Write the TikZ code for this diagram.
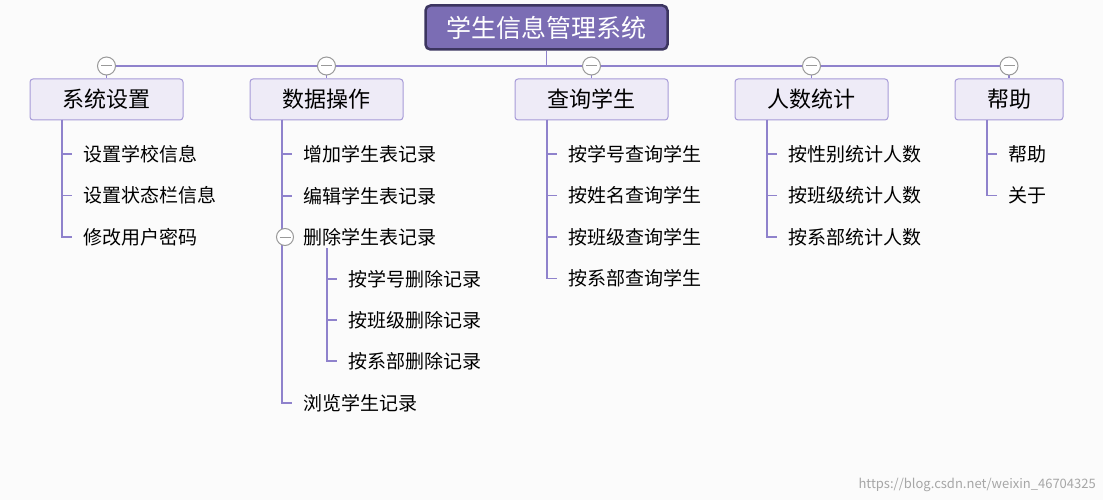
\documentclass[tikz,border=0pt]{standalone}
\usepackage{fontspec}
\setmainfont{Noto Sans CJK SC}
\usetikzlibrary{positioning}
\definecolor{rootfill}{HTML}{7B6DB4}
\definecolor{rootdraw}{HTML}{3C3560}
\definecolor{topfill}{HTML}{EEEBF7}
\definecolor{topdraw}{HTML}{A79BD8}
\definecolor{wire}{HTML}{8F82CC}
\begin{document}
\begin{tikzpicture}
[x=1pt,y=-1pt,%
  every node/.style={inner sep=0pt},%
  wire/.style={draw=wire,line width=1.2pt},%
  topbox/.style={draw=topdraw,fill=topfill,rounded corners=3pt,line width=1pt,minimum height=41pt,font=\fontsize{22}{22}\selectfont},%
  leaf/.style={anchor=west,font=\fontsize{19}{19}\selectfont},%
  fold/.style={circle,draw=gray!80,fill=white,line width=1pt,minimum size=18pt}]
\useasboundingbox[fill=white!97!gray] (0,0) rectangle (1103,500);
% root
\node[draw=rootdraw,fill=rootfill,rounded corners=5pt,line width=2.5pt,minimum width=242pt,minimum height=44pt,
  text=white,font=\fontsize{25}{25}\selectfont] (root) at (546.5,27.5) {学生信息管理系统};
\coordinate (busl) at (107,66);
\coordinate (busr) at (1010,66);
\draw[wire] (root.south) -- (546.5,66);
\draw[wire] (busl) -- (busr);
% first level
\foreach \n/\x/\w/\t in {sys/106.5/153/系统设置,data/326.5/153/数据操作,query/591.5/153/查询学生,count/811.5/153/人数统计,help/1009/108/帮助}{
  \node[topbox,minimum width=\w pt] (\n) at (\x,99.5) {\t};
  \draw[wire] (\x,66) -- (\n.north);
  \node[fold] (\n fold) at (\x,66) {};
  \draw[gray!80,line width=1pt] ([xshift=-5.5pt]\n fold.center) -- ([xshift=5.5pt]\n fold.center);
}
% leaves
\foreach \n/\x/\list in {sys/62/{设置学校信息,设置状态栏信息,修改用户密码},
  query/547/{按学号查询学生,按姓名查询学生,按班级查询学生,按系部查询学生},
  count/767/{按性别统计人数,按班级统计人数,按系部统计人数},
  help/987/{帮助,关于}}{
  \foreach \t [count=\i] in \list {
    \node[leaf] (\n\i) at (\x+21,112.5+41.5*\i) {\t};
    \draw[wire] (\x,120) |- ([xshift=-11pt]\n\i.west);
  }
}
% data branch
\foreach \t/\y [count=\i] in {增加学生表记录/154,编辑学生表记录/196,删除学生表记录/237,浏览学生记录/403}{
  \node[leaf] (data\i) at (303,\y) {\t};
  \draw[wire] (282,120) |- ([xshift=-11pt]data\i.west);
}
\foreach \t/\y [count=\i] in {按学号删除记录/279,按班级删除记录/320,按系部删除记录/361}{
  \node[leaf] (del\i) at (348,\y) {\t};
  \draw[wire] (327,248) |- ([xshift=-11pt]del\i.west);
}
\node[fold,minimum size=17pt] (datafold3) at (285,237) {};
\draw[gray!80,line width=1pt] ([xshift=-5.5pt]datafold3.center) -- ([xshift=5.5pt]datafold3.center);
\node[anchor=east,text=gray!70,font=\fontsize{13}{13}\selectfont] (mark) at (1096,485) {https://blog.csdn.net/weixin\_46704325};
\end{tikzpicture}
\end{document}
